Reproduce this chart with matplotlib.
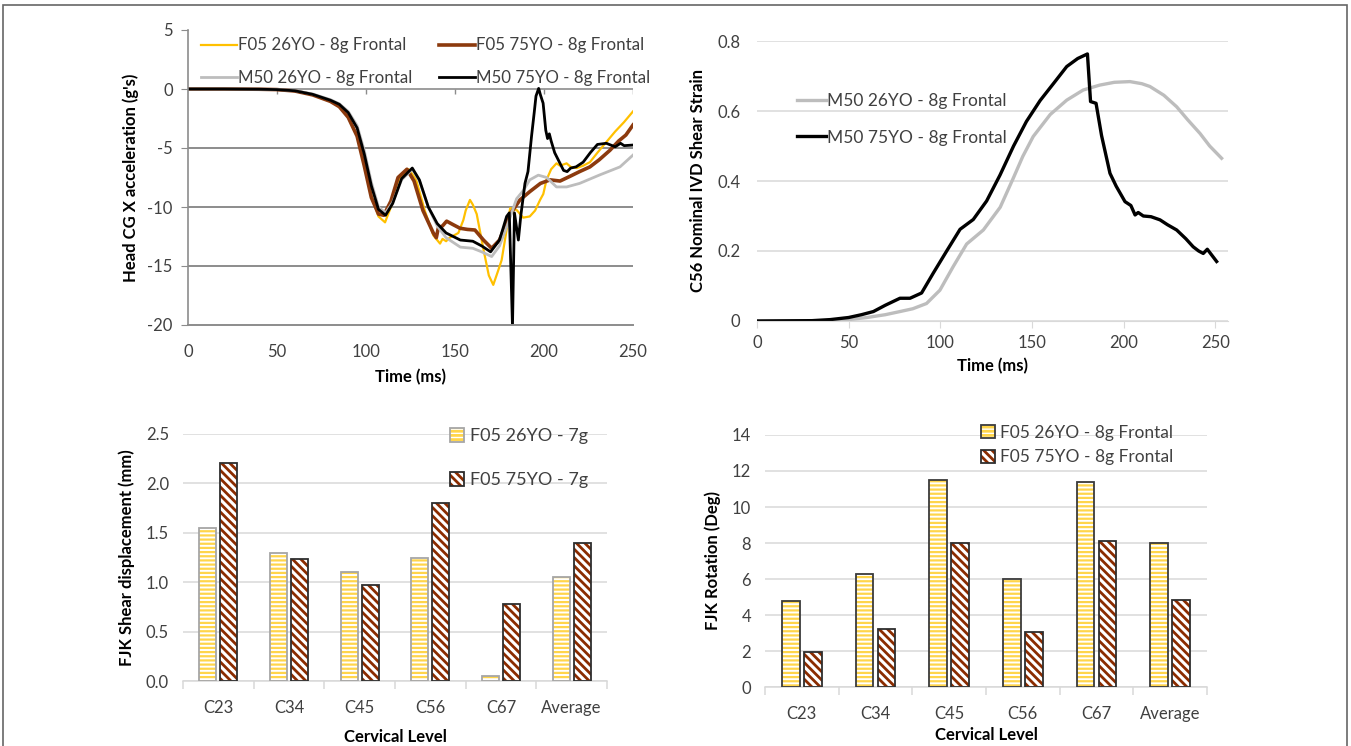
import numpy as np
import matplotlib
matplotlib.use("Agg")
import matplotlib.pyplot as plt
from matplotlib.patches import Patch, Rectangle

plt.rcParams['font.family'] = ['Lato', 'DejaVu Sans']
plt.rcParams['hatch.linewidth'] = 2.0
plt.rcParams['axes.unicode_minus'] = False

TICK_COLOR = '#404040'
YELLOW = '#FFC000'
BROWN = '#8C3A0E'
GRAY = '#BDBDBD'

# head CG x acceleration (g's) vs time (ms)
t_f05_26 = [0, 20, 40, 50, 60, 70, 80, 85, 90, 95, 99, 103, 107, 110.7, 114, 118, 124, 128,
            133, 137.8, 141.6, 143, 145, 147, 151.9, 154.7, 156, 158.4, 160, 162.2, 166, 169,
            171.5, 174, 176.2, 181, 184.6, 188.3, 192, 195, 197.8, 199.6, 201.4, 204, 207, 209,
            212.7, 215, 218.4, 222, 225.8, 230, 235, 240, 245, 250]
a_f05_26 = [0, 0, -0.02, -0.05, -0.17, -0.5, -1.05, -1.5, -2.4, -4.0, -6.4, -9.0, -10.8, -11.3,
            -10.0, -7.8, -6.8, -7.6, -10.3, -12.4, -13.1, -12.7, -12.9, -12.6, -12.2, -11.1,
            -10.3, -9.4, -9.8, -10.6, -13.6, -15.8, -16.6, -15.5, -14.5, -10.1, -10.25, -10.9,
            -10.8, -10.3, -9.4, -8.9, -7.7, -6.8, -6.3, -6.5, -6.3, -6.6, -6.7, -6.5, -6.2, -5.4,
            -4.5, -3.6, -2.8, -1.9]

t_f05_75 = [0, 20, 40, 50, 60, 70, 80, 85, 90, 95, 99, 103, 107, 110, 114, 118, 123, 127, 132,
            137.8, 139.5, 140.6, 143, 145.3, 149, 152.8, 157, 161.2, 166, 170.6, 175, 181,
            186.5, 192, 198, 203.4, 209, 214.6, 220, 225.8, 231, 237, 242, 246, 250]
a_f05_75 = [0, 0, -0.02, -0.05, -0.17, -0.5, -1.05, -1.5, -2.4, -4.0, -6.5, -9.2, -10.6, -10.7,
            -9.5, -7.5, -6.8, -7.8, -10.3, -12.2, -12.6, -11.8, -11.6, -11.2, -11.5, -11.8,
            -11.9, -11.95, -12.8, -13.5, -12.8, -10.6, -9.4, -8.7, -8.0, -7.7, -7.8, -7.4, -7.0,
            -6.6, -6.0, -5.2, -4.4, -3.9, -3.05]

t_m50_26 = [0, 20, 40, 50, 60, 70, 80, 85, 90, 95, 99, 103, 107, 111, 115, 120, 126, 130, 135,
            140, 145, 153, 160, 165, 170.6, 175, 180, 184.6, 188.4, 192, 196.8, 201.5, 207,
            212.7, 220, 231, 242.7, 250]
a_m50_26 = [0, 0, -0.02, -0.04, -0.13, -0.42, -0.9, -1.25, -1.9, -3.1, -5.2, -7.9, -10.0, -10.5,
            -9.6, -7.7, -6.8, -7.8, -10.0, -11.6, -12.6, -13.4, -13.5, -13.8, -14.2, -13.3,
            -11.3, -9.3, -8.6, -7.7, -7.3, -7.5, -8.3, -8.3, -8.0, -7.3, -6.6, -5.6]

t_m50_75 = [0, 20, 40, 50, 60, 70, 80, 85, 90, 95, 99, 103, 107, 111, 115, 120, 126, 130, 135,
            140, 145, 153, 160, 165, 170, 175, 179, 180.5, 182.3, 183.4, 185.6, 187, 189.3,
            191, 193, 194.5, 195.5, 197, 198, 199.5, 201, 202, 203, 204, 206, 208, 211, 213,
            215, 218, 222, 226, 230, 235, 240, 243, 245, 250]
a_m50_75 = [0, 0, -0.02, -0.05, -0.15, -0.45, -0.95, -1.3, -2.0, -3.3, -5.5, -8.2, -10.2, -10.7,
            -9.7, -7.6, -6.7, -7.7, -10.0, -11.4, -12.2, -12.8, -12.9, -13.3, -13.8, -12.8,
            -10.8, -10.5, -20.1, -10.5, -12.8, -10.7, -8.0, -7.0, -4.0, -2.0, -0.6, 0.05, -0.5,
            -1.2, -3.5, -4.2, -3.8, -4.4, -5.4, -6.0, -6.9, -7.0, -6.7, -6.6, -6.2, -5.4, -4.7,
            -4.6, -4.9, -4.6, -4.8, -4.75]

# C56 nominal IVD shear strain vs time (ms)
t_strain_26 = [0, 40, 50, 60, 70, 78, 85, 92.5, 99.8, 107, 114.4, 123.5, 132.7, 140, 145, 150.7,
               160, 169, 178, 187, 195, 203.5, 210, 214.4, 222, 229, 235, 241.7, 247, 253.5]
s_strain_26 = [0, 0.001, 0.004, 0.01, 0.018, 0.027, 0.035, 0.05, 0.088, 0.155, 0.22, 0.26, 0.325,
               0.41, 0.47, 0.527, 0.59, 0.631, 0.66, 0.674, 0.682, 0.684, 0.678, 0.67, 0.645,
               0.612, 0.575, 0.536, 0.5, 0.465]
t_strain_75 = [0, 30, 40, 50, 57, 63.5, 70, 78, 83.5, 89.8, 96.2, 103.5, 110.8, 118, 125.3, 132.6,
               140, 147, 154.5, 162, 169, 175, 180.3, 182, 185, 188, 192.6, 196, 200.8, 204,
               206.3, 208, 210.8, 215, 219.9, 224, 229, 234, 238, 241, 243.5, 245.7, 250.8]
s_strain_75 = [0, 0.001, 0.004, 0.01, 0.018, 0.027, 0.045, 0.065, 0.065, 0.08, 0.137, 0.2, 0.262,
               0.29, 0.343, 0.417, 0.5, 0.57, 0.63, 0.68, 0.727, 0.75, 0.763, 0.627, 0.622, 0.53,
               0.422, 0.385, 0.341, 0.33, 0.303, 0.31, 0.3, 0.298, 0.289, 0.275, 0.26, 0.235,
               0.212, 0.2, 0.193, 0.205, 0.17]

# facet joint kinematics per cervical level
levels = ['C23', 'C34', 'C45', 'C56', 'C67', 'Average']
shear_26 = [1.55, 1.30, 1.10, 1.25, 0.05, 1.05]
shear_75 = [2.21, 1.23, 0.97, 1.80, 0.78, 1.40]
rot_26 = [4.8, 6.3, 11.5, 6.0, 11.4, 8.0]
rot_75 = [1.95, 3.25, 8.0, 3.05, 8.1, 4.85]

W, H = 1351, 746
fig = plt.figure(figsize=(W / 100, H / 100), dpi=100)


def px_axes(left, top, right, bottom):
    return fig.add_axes([left / W, 1 - bottom / H, (right - left) / W, (bottom - top) / H])


fig.patches.append(Rectangle((3 / W, -0.01), (W - 7) / W, 1.01 - 5 / H, transform=fig.transFigure,
                             fill=False, edgecolor='#666666', lw=1.2))

# ---- head acceleration ----
ax1 = px_axes(188, 30, 633, 325)
l1, = ax1.plot(t_f05_26, a_f05_26, color=YELLOW, lw=1.6)
l2, = ax1.plot(t_f05_75, a_f05_75, color=BROWN, lw=2.6)
l3, = ax1.plot(t_m50_26, a_m50_26, color=GRAY, lw=2.0)
l4, = ax1.plot(t_m50_75, a_m50_75, color='black', lw=2.0)
ax1.set_xlim(0, 250)
ax1.set_ylim(-20, 5)
ax1.set_xticks(range(0, 251, 50))
ax1.set_yticks(range(-20, 6, 5))
for y in (-5, -10, -15):
    ax1.axhline(y, color='#8C8C8C', lw=1.4, zorder=0)
ax1.axhline(0, color='#8C8C8C', lw=1.2, zorder=0)
ax1.vlines(range(50, 251, 50), -0.45, 0, color='#8C8C8C', lw=1.0, zorder=0)
for s in ('top', 'right'):
    ax1.spines[s].set_visible(False)
ax1.spines['left'].set_color('#8C8C8C')
ax1.spines['bottom'].set_color('#8C8C8C')
ax1.spines['left'].set_linewidth(1.2)
ax1.spines['bottom'].set_linewidth(1.4)
ax1.tick_params(axis='y', length=5, color='#8C8C8C', labelsize=12, labelcolor=TICK_COLOR, pad=6)
ax1.tick_params(axis='x', length=0, labelsize=12, labelcolor=TICK_COLOR, pad=14)
ax1.set_xlabel('Time (ms)', fontsize=12, fontweight='bold', labelpad=6)
ax1.set_ylabel("Head CG X acceleration (g's)", fontsize=12, fontweight='bold', labelpad=6)
ax1.legend([l1, l3, l2, l4],
           ['F05 26YO - 8g Frontal', 'M50 26YO - 8g Frontal',
            'F05 75YO - 8g Frontal', 'M50 75YO - 8g Frontal'],
           ncol=2, loc='upper left', bbox_to_anchor=(193 / W, 1 - 29 / H), bbox_transform=fig.transFigure,
           frameon=False, fontsize=12.2, handlelength=2.1, handletextpad=0.05, columnspacing=1.6,
           labelspacing=0.95, borderpad=0, labelcolor=TICK_COLOR)

# ---- C56 shear strain ----
ax2 = px_axes(757, 41, 1228, 321)
ax2.plot(t_strain_26, s_strain_26, color=GRAY, lw=2.4, label='M50 26YO - 8g Frontal')
ax2.plot(t_strain_75, s_strain_75, color='black', lw=2.4, label='M50 75YO - 8g Frontal')
ax2.set_xlim(0, 257)
ax2.set_ylim(0, 0.8)
ax2.set_xticks(range(0, 251, 50))
ax2.set_yticks([0, 0.2, 0.4, 0.6, 0.8])
ax2.set_yticklabels(['0', '0.2', '0.4', '0.6', '0.8'])
ax2.grid(axis='y', color='#D9D9D9', lw=1.1)
ax2.set_axisbelow(True)
for s in ('top', 'right', 'left'):
    ax2.spines[s].set_visible(False)
ax2.spines['bottom'].set_color('#D9D9D9')
ax2.tick_params(axis='y', length=0, labelsize=12, labelcolor=TICK_COLOR, pad=12)
ax2.tick_params(axis='x', length=5, color='#D9D9D9', labelsize=12, labelcolor=TICK_COLOR, pad=5)
ax2.set_xlabel('Time (ms)', fontsize=12, fontweight='bold', labelpad=5)
ax2.set_ylabel('C56 Nominal IVD Shear Strain', fontsize=12, fontweight='bold', labelpad=8)
ax2.legend(loc='upper left', bbox_to_anchor=(788 / W, 1 - 84 / H), bbox_transform=fig.transFigure,
           frameon=False, fontsize=12.5, handlelength=1.7, handletextpad=0.05, labelspacing=1.2,
           borderpad=0, labelcolor=TICK_COLOR)


def set_hatch_lw(patches, lw):
    for p in patches:
        if hasattr(p, 'set_hatch_linewidth'):
            p.set_hatch_linewidth(lw)


def hatched_bars(ax, x, vals, hatch, hcolor, ecolor, hlw):
    bars = ax.bar(x, vals, 0.24, color='white', edgecolor=hcolor, hatch=hatch, lw=0, zorder=2)
    set_hatch_lw(bars, hlw)
    ax.bar(x, vals, 0.24, fill=False, edgecolor=ecolor, lw=1.3, zorder=3)
    h1 = Patch(facecolor='white', edgecolor=hcolor, hatch=hatch, lw=0)
    set_hatch_lw([h1], hlw)
    h2 = Patch(fill=False, edgecolor=ecolor, lw=1.3)
    return (h1, h2)


def bar_panel(ax, v26, v75, edge26, ylim, step, fmt, ylabel, lpad):
    x = np.arange(len(levels))
    hy = hatched_bars(ax, x - 0.15, v26, '----', '#FFD54A', edge26, 1.6)
    hb = hatched_bars(ax, x + 0.15, v75, '\\\\\\\\', '#8B2C00', '#2E2E2E', 2.0)
    ax.set_xlim(-0.5, len(levels) - 0.5)
    ax.set_ylim(0, ylim)
    ticks = np.arange(0, ylim + step / 2, step)
    ax.set_yticks(ticks)
    ax.set_yticklabels([fmt.format(t) for t in ticks])
    ax.set_xticks(x)
    ax.set_xticklabels(levels)
    ax.set_xticks(np.arange(-0.5, len(levels), 1), minor=True)
    ax.grid(axis='y', color='#D9D9D9', lw=1.1)
    ax.set_axisbelow(True)
    for s in ('top', 'right', 'left'):
        ax.spines[s].set_visible(False)
    ax.spines['bottom'].set_color('#D9D9D9')
    ax.spines['bottom'].set_linewidth(1.1)
    ax.tick_params(axis='y', length=0, labelsize=12, labelcolor=TICK_COLOR, pad=10)
    ax.tick_params(axis='x', which='major', length=0, labelsize=12, labelcolor=TICK_COLOR, pad=14)
    ax.tick_params(axis='x', which='minor', length=6, color='#D9D9D9', width=1.1)
    ax.set_xlabel('Cervical Level', fontsize=12, fontweight='bold', labelpad=lpad)
    ax.set_ylabel(ylabel, fontsize=12, fontweight='bold', labelpad=8)
    return hy, hb


ax3 = px_axes(183, 434, 607, 681)
hy, hb = bar_panel(ax3, shear_26, shear_75, '#A6A6A6', 2.5, 0.5, '{:.1f}',
                   'FJK Shear displacement (mm)', 9)
ax3.legend([hy, hb], ['F05 26YO - 7g', 'F05 75YO - 7g'], loc='upper left',
           bbox_to_anchor=(441 / W, 1 - 419 / H), bbox_transform=fig.transFigure, frameon=False,
           fontsize=13, handlelength=0.8, handleheight=0.8, handletextpad=0.3, labelspacing=1.55,
           borderpad=0, labelcolor=TICK_COLOR)

ax4 = px_axes(765, 435, 1207, 687)
hy, hb = bar_panel(ax4, rot_26, rot_75, '#3A3A3A', 14, 2, '{:.0f}', 'FJK Rotation (Deg)', 3)
ax4.legend([hy, hb], ['F05 26YO - 8g Frontal', 'F05 75YO - 8g Frontal'], loc='upper left',
           bbox_to_anchor=(972 / W, 1 - 416 / H), bbox_transform=fig.transFigure, frameon=False,
           fontsize=12.5, handlelength=0.8, handleheight=0.8, handletextpad=0.3, labelspacing=0.5,
           borderpad=0, labelcolor=TICK_COLOR)

fig.savefig('out.png', dpi=100)
